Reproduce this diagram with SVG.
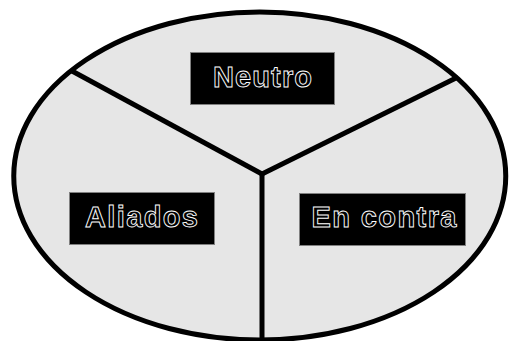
<svg xmlns="http://www.w3.org/2000/svg" width="509" height="341" viewBox="0 0 509 341">
<style>
.box{fill:#000;stroke:#808080;stroke-width:1}
.lbl{font-family:"Liberation Sans",Arial,sans-serif;font-size:29px;font-weight:bold;fill:#000;stroke:#fff;stroke-width:0.9;text-anchor:middle}
.div{stroke:#000;stroke-width:5;fill:none;stroke-linecap:butt}
</style>
<rect width="509" height="341" fill="#fff"/>
<ellipse id="ellipse" cx="259.75" cy="176" rx="246" ry="164" fill="#e6e6e6" stroke="#000" stroke-width="5"/>
<g id="connectors">
<line class="div" x1="262" y1="174" x2="72" y2="71"/>
<line class="div" x1="262" y1="174" x2="458" y2="77"/>
<line class="div" x1="262" y1="172" x2="262" y2="341"/>
</g>
<g id="neutro">
<rect class="box" x="190.5" y="52.5" width="144" height="52"/>
<text class="lbl" x="262.5" y="87" textLength="99" lengthAdjust="spacing">Neutro</text>
</g>
<g id="aliados">
<rect class="box" x="69.5" y="192.5" width="145" height="52"/>
<text class="lbl" x="141.5" y="227" textLength="113" lengthAdjust="spacing">Aliados</text>
</g>
<g id="encontra">
<rect class="box" x="299.5" y="193.5" width="166" height="52"/>
<text class="lbl" x="384" y="227" textLength="145" lengthAdjust="spacing">En contra</text>
</g>
</svg>
